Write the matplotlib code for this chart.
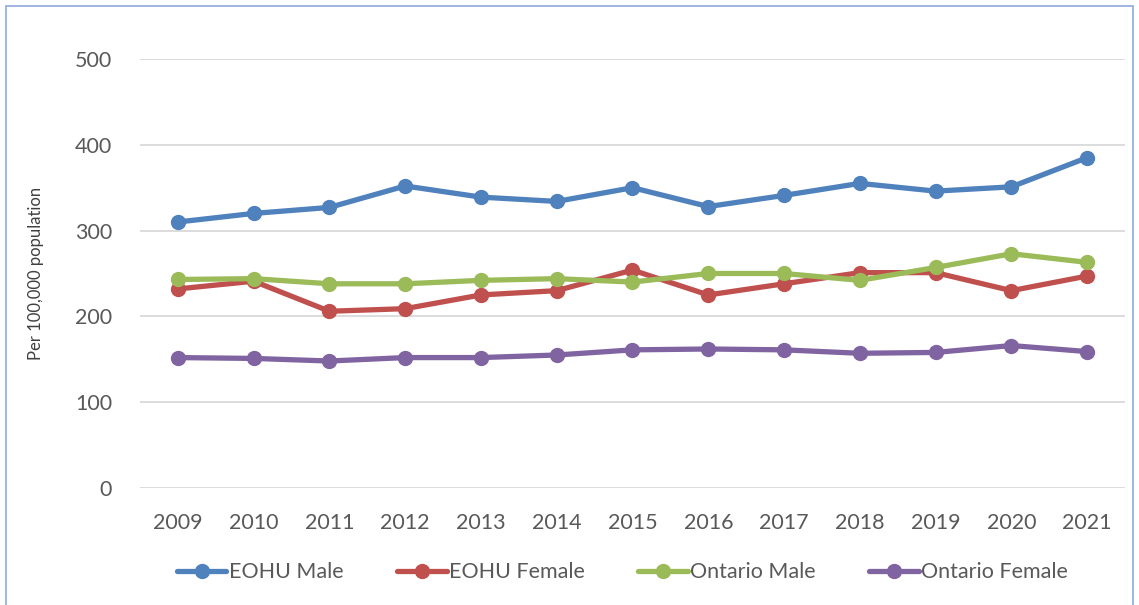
import matplotlib
matplotlib.use("Agg")
import matplotlib.pyplot as plt
from matplotlib.patches import Rectangle

years = ["2009", "2010", "2011", "2012", "2013", "2014", "2015",
         "2016", "2017", "2018", "2019", "2020", "2021"]
eohu_male = [310, 320, 327, 352, 339, 334, 350, 328, 341, 355, 346, 351, 385]
eohu_female = [232, 241, 206, 209, 225, 230, 254, 225, 238, 251, 251, 230, 247]
ontario_male = [243, 244, 238, 238, 242, 244, 240, 250, 250, 242, 257, 273, 263]
ontario_female = [152, 151, 148, 152, 152, 155, 161, 162, 161, 157, 158, 166, 159]

series = [
    ("EOHU Male", eohu_male, "#4F81BD"),
    ("EOHU Female", eohu_female, "#C0504D"),
    ("Ontario Male", ontario_male, "#9BBB59"),
    ("Ontario Female", ontario_female, "#8064A2"),
]

plt.rcParams["font.family"] = ["Lato", "DejaVu Sans"]
text_color = "#595959"

fig = plt.figure(figsize=(11.39, 6.05), dpi=100)
ax = fig.add_axes([0.1229, 0.1934, 0.8648, 0.7091])

x = list(range(len(years)))
for name, vals, col in series:
    ax.plot(x, vals, color=col, linewidth=3.8, marker="o", markersize=10,
            label=name, solid_capstyle="round")

ax.set_xlim(-0.5, len(years) - 0.5)
ax.set_ylim(0, 500)
ax.set_yticks([0, 100, 200, 300, 400, 500])
ax.set_xticks(x)
ax.set_xticklabels(years)
ax.grid(axis="y", color="#D9D9D9", linewidth=1.3)
ax.set_axisbelow(True)
for s in ax.spines.values():
    s.set_visible(False)
ax.tick_params(axis="both", length=0, labelsize=15.5, colors=text_color)
ax.tick_params(axis="y", pad=20)
ax.tick_params(axis="x", pad=18)
ax.set_ylabel("Per 100,000 population", fontsize=12, color="#404040", labelpad=22)

fig.legend(loc="center", bbox_to_anchor=(0.5465, 0.054), ncol=4, frameon=False,
           fontsize=15.5, handlelength=2.3, handletextpad=0.1, columnspacing=2.5,
           labelcolor=text_color)

fig.patches.append(Rectangle((6 / 1139, -0.02), 1127 / 1139, 1.0 - 6 / 605 + 0.02,
                             transform=fig.transFigure, fill=False,
                             edgecolor="#8EAADB", linewidth=1.2))

fig.savefig("out.png", dpi=100)
